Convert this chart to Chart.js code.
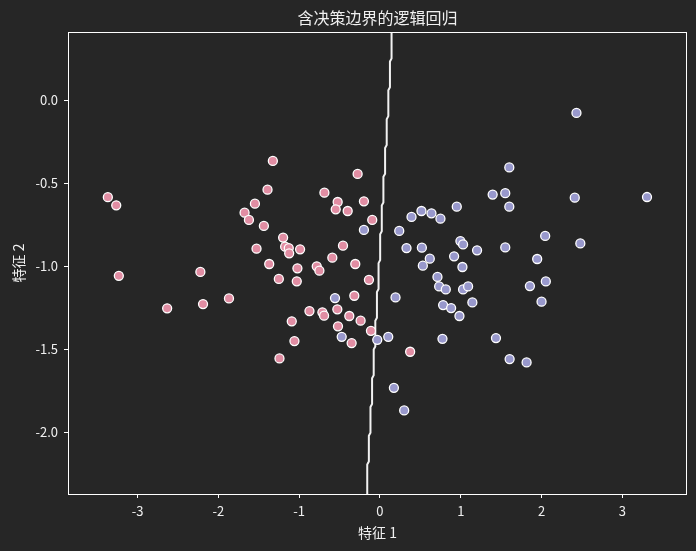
<!DOCTYPE html>
<html>
<head>
<meta charset="utf-8">
<script src="https://cdn.jsdelivr.net/npm/chart.js@4.4.0/dist/chart.umd.min.js"></script>
<style>
  html, body { margin: 0; padding: 0; background: #262626; }
</style>
</head>
<body>
<canvas id="chart" width="696" height="551"></canvas>
<script>
// class 0 (pink)
var class0X = [-3.367, -3.263, -3.231, -2.222, -2.633, -2.189, -1.868, -1.325, -0.276, -1.391,
  -0.687, -0.523, -0.198, -1.547, -0.547, -0.399, -1.675, -1.621, -0.095, -1.436,
  -1.198, -1.173, -1.128, -1.123, -1.527, -0.988, -0.457, -0.589, -1.370, -1.021,
  -0.782, -0.749, -0.305, -1.251, -1.029, -0.136, -0.317, -0.872, -0.712, -0.691,
  -0.527, -0.379, -0.239, -1.091, -0.519, -0.111, -1.058, -0.350, -1.243, 0.374];
var class0Y = [-0.584, -0.633, -1.057, -1.034, -1.253, -1.227, -1.193, -0.366, -0.444, -0.539,
  -0.557, -0.613, -0.609, -0.623, -0.657, -0.667, -0.677, -0.721, -0.721, -0.757,
  -0.827, -0.882, -0.890, -0.922, -0.894, -0.898, -0.876, -0.948, -0.986, -1.012,
  -1.000, -1.026, -0.986, -1.076, -1.090, -1.081, -1.177, -1.269, -1.277, -1.297,
  -1.259, -1.299, -1.327, -1.331, -1.361, -1.388, -1.450, -1.462, -1.554, -1.514];

// class 1 (lavender)
var class1X = [-0.198, 0.239, -0.556, 0.193, -0.473, -0.033, 0.103, 0.391, 0.514, 0.638,
  0.749, 0.951, 0.329, 0.519, 0.617, 0.531, 0.996, 1.029, 0.918, 1.021,
  1.202, 0.712, 0.733, 0.815, 1.029, 1.091, 0.782, 0.881, 0.984, 1.144,
  0.774, 0.173, 0.300, 1.601, 1.395, 1.551, 1.601, 2.411, 2.045, 2.480,
  1.551, 1.946, 1.856, 2.053, 2.000, 1.436, 1.605, 1.815, 2.432, 3.305];
var class1Y = [-0.781, -0.787, -1.191, -1.187, -1.424, -1.442, -1.424, -0.703, -0.667, -0.681,
  -0.713, -0.641, -0.890, -0.888, -0.954, -0.996, -0.848, -0.868, -0.940, -1.004,
  -0.904, -1.064, -1.121, -1.139, -1.139, -1.121, -1.233, -1.251, -1.299, -1.217,
  -1.436, -1.731, -1.867, -0.405, -0.568, -0.560, -0.641, -0.587, -0.817, -0.862,
  -0.886, -0.956, -1.119, -1.091, -1.213, -1.432, -1.558, -1.578, -0.077, -0.583];

// decision boundary contour
var boundaryX = [0.144, 0.144, 0.124, 0.124, 0.104, 0.104, 0.084, 0.084, 0.064, 0.064,
  0.043, 0.043, 0.023, 0.023, 0.003, 0.003, -0.017, -0.017, -0.037, -0.037,
  -0.057, -0.057, -0.077, -0.077, -0.097, -0.097, -0.117, -0.117, -0.137, -0.137,
  -0.157, -0.157];
var boundaryY = [0.405, 0.250, 0.232, 0.077, 0.059, -0.096, -0.115, -0.270, -0.288, -0.443,
  -0.461, -0.616, -0.634, -0.789, -0.807, -0.962, -0.981, -1.136, -1.154, -1.309,
  -1.327, -1.482, -1.500, -1.655, -1.673, -1.828, -1.847, -2.002, -2.020, -2.175,
  -2.193, -2.370];

var xTicks = [-3, -2, -1, 0, 1, 2, 3];
var yTicks = [0, -0.5, -1, -1.5, -2];

function pts(xs, ys) {
  return xs.map(function(x, i) { return { x: x, y: ys[i] }; });
}

var textColor = '#f0f0f0';
var fontFamily = '"Noto Sans CJK SC", "Noto Sans", sans-serif';

var frame = {
  id: 'frame',
  beforeDraw: function(chart) {
    var ctx = chart.ctx;
    ctx.save();
    ctx.fillStyle = '#262626';
    ctx.fillRect(0, 0, chart.width, chart.height);
    ctx.restore();
  },
  afterDraw: function(chart) {
    var a = chart.chartArea;
    var ctx = chart.ctx;
    ctx.save();
    ctx.strokeStyle = '#ffffff';
    ctx.lineWidth = 1;
    ctx.strokeRect(Math.round(a.left) + 0.5, Math.round(a.top) + 0.5,
      Math.round(a.right - a.left) - 1, Math.round(a.bottom - a.top));
    ctx.restore();
  }
};

new Chart(document.getElementById('chart'), {
  type: 'scatter',
  data: {
    datasets: [
      {
        label: '类别 0',
        data: pts(class0X, class0Y),
        backgroundColor: '#e18da3',
        borderColor: '#ffffff',
        borderWidth: 1.3,
        pointRadius: 4.5,
        order: 1
      },
      {
        label: '类别 1',
        data: pts(class1X, class1Y),
        backgroundColor: '#9898cc',
        borderColor: '#ffffff',
        borderWidth: 1.3,
        pointRadius: 4.5,
        order: 2
      },
      {
        label: '决策边界',
        data: pts(boundaryX, boundaryY),
        showLine: true,
        borderColor: '#f2f2f2',
        borderWidth: 2,
        pointRadius: 0,
        fill: false,
        order: 3
      }
    ]
  },
  options: {
    responsive: false,
    animation: false,
    layout: { padding: { left: 0, right: 9, top: 0, bottom: 0 } },
    plugins: {
      legend: { display: false },
      tooltip: { enabled: false },
      title: { display: false }
    },
    scales: {
      x: {
        type: 'linear',
        position: 'bottom',
        min: -3.86,
        max: 3.80,
        afterBuildTicks: function(s) { s.ticks = xTicks.map(function(v) { return { value: v }; }); },
        afterFit: function(s) { s.height = 57; },
        grid: { display: true, drawOnChartArea: false, drawTicks: true, tickLength: 4, color: '#ffffff' },
        border: { display: false },
        ticks: {
          color: textColor, padding: 5,
          font: { family: fontFamily, size: 13 },
          callback: function(v) { return String(v); }
        },
        title: {
          display: true, text: '特征 1', color: textColor,
          font: { family: fontFamily, size: 14 },
          padding: { top: 0, bottom: 10 }
        }
      },
      top: {
        type: 'linear',
        position: 'top',
        min: -3.86,
        max: 3.80,
        afterFit: function(s) { s.height = 32; },
        grid: { display: false },
        border: { display: false },
        ticks: { display: false },
        title: {
          display: true, text: '含决策边界的逻辑回归', color: textColor,
          font: { family: fontFamily, size: 16 },
          padding: { top: 8, bottom: 0 }
        }
      },
      y: {
        type: 'linear',
        position: 'left',
        min: -2.37,
        max: 0.41,
        afterBuildTicks: function(s) { s.ticks = yTicks.map(function(v) { return { value: v }; }); },
        afterFit: function(s) { s.width = 68; },
        grid: { display: true, drawOnChartArea: false, drawTicks: true, tickLength: 4, color: '#ffffff' },
        border: { display: false },
        ticks: {
          color: textColor, padding: 6,
          font: { family: fontFamily, size: 13 },
          callback: function(v) { return v.toFixed(1); }
        },
        title: {
          display: true, text: '特征 2', color: textColor,
          font: { family: fontFamily, size: 14 },
          padding: { top: 10, bottom: 0 }
        }
      }
    }
  },
  plugins: [frame]
});
</script>
</body>
</html>
